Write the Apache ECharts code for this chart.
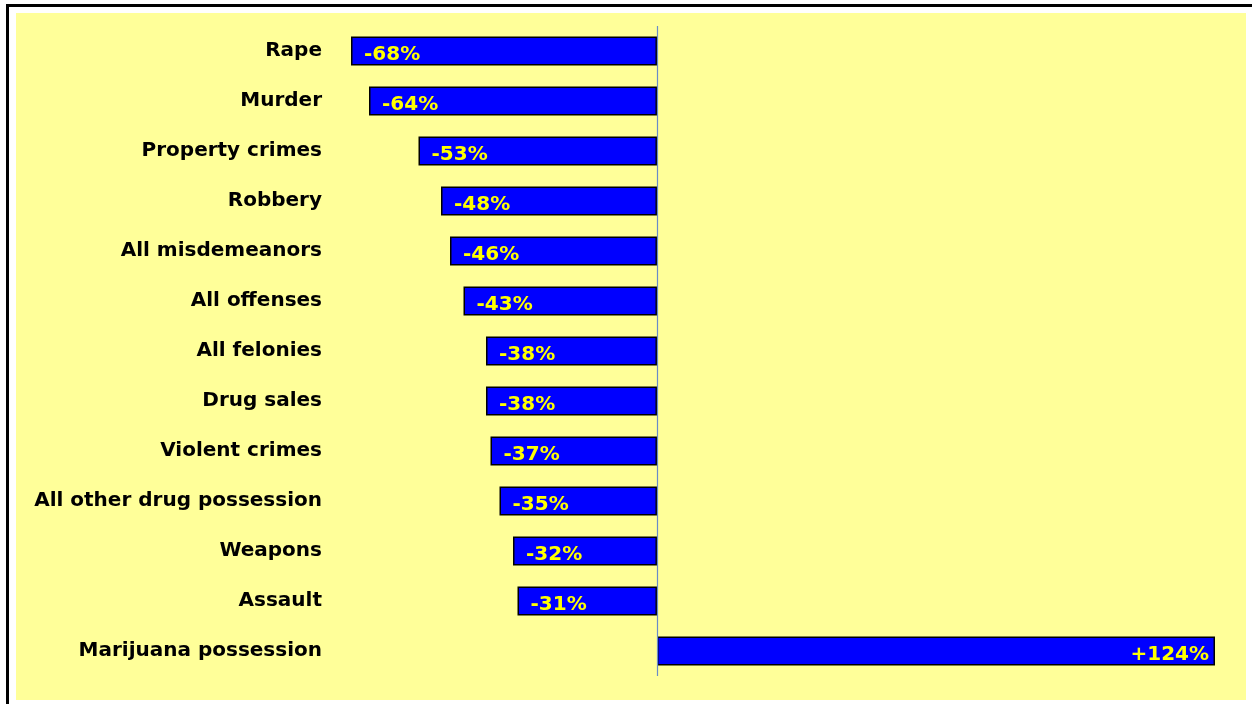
<!DOCTYPE html>
<html>
<head>
<meta charset="utf-8">
<script src="https://cdn.jsdelivr.net/npm/echarts@6/dist/echarts.min.js"></script>
<style>
html,body{margin:0;padding:0;background:#fff;}
#chart{width:1252px;height:704px;}
</style>
</head>
<body>
<div id="chart"></div>
<script>
const categories = ["Rape","Murder","Property crimes","Robbery","All misdemeanors","All offenses","All felonies","Drug sales","Violent crimes","All other drug possession","Weapons","Assault","Marijuana possession"];
const changes = [-68,-64,-53,-48,-46,-43,-38,-38,-37,-35,-32,-31,124];

const chart = echarts.init(document.getElementById('chart'), null, {renderer:'canvas'});
const FONT = 'DejaVu Sans';

const seriesData = changes.map(v => ({
  value: v,
  label: v < 0
    ? {position:'insideLeft', distance:13, offset:[0,4]}
    : {position:'insideRight', distance:6, offset:[0,4]}
}));

chart.setOption({
  animation:false,
  backgroundColor:'#ffffff',
  graphic:[
    {type:'rect', shape:{x:6,y:4,width:1246,height:3}, style:{fill:'#000'}, silent:true, z:-10},
    {type:'rect', shape:{x:6,y:4,width:3,height:700}, style:{fill:'#000'}, silent:true, z:-10},
    {type:'rect', shape:{x:16,y:13,width:1230,height:687}, style:{fill:'#ffff99'}, silent:true, z:-10}
  ],
  grid:{left:342, top:26, width:900, height:650, containLabel:false},
  xAxis:{type:'value', min:-70, max:130, show:false, splitLine:{show:false}},
  yAxis:{
    type:'category', data:categories, inverse:true,
    axisLine:{show:false}, axisTick:{show:false}, splitLine:{show:false},
    axisLabel:{margin:20, color:'#000', fontFamily:FONT, fontWeight:'bold', fontSize:20}
  },
  series:[{
    type:'bar',
    data:seriesData,
    barWidth:29,
    z:2,
    itemStyle:{color:'#0000ff', borderColor:'#000', borderWidth:1.5},
    label:{
      show:true, color:'#ffff00', fontFamily:FONT, fontWeight:'bold', fontSize:20,
      formatter:p => (p.value > 0 ? '+' : '') + p.value + '%'
    },
    markLine:{
      silent:true, symbol:'none', label:{show:false}, z:5,
      emphasis:{disabled:true},
      lineStyle:{color:'#6a8cc8', width:1.2, type:'solid', opacity:1},
      data:[{xAxis:0}]
    }
  }]
});
</script>
</body>
</html>
